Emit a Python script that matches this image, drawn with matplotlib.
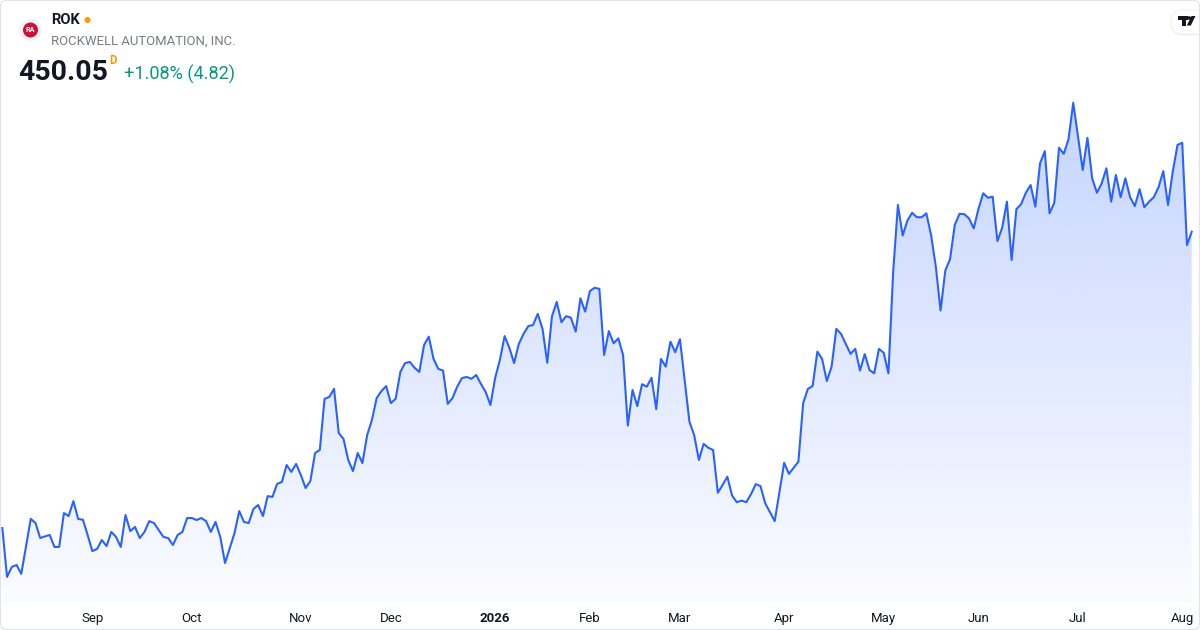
import matplotlib
matplotlib.use("Agg")
import matplotlib.pyplot as plt
import numpy as np
import matplotlib.transforms as mtransforms
from matplotlib.patches import FancyBboxPatch, Circle, Polygon, Rectangle

plt.rcParams['font.family'] = ['Roboto', 'DejaVu Sans']

# ---------------- data ----------------
ticker = "ROK"
company = "ROCKWELL AUTOMATION, INC."
last_price = "450.05"
price_flag = "D"
change_text = "+1.08% (4.82)"

# daily closes (trading days, Aug 5 2025 .. Aug 5 2026)
prices = [
    343.4, 325.8, 329.4, 330.1, 326.9, 336.9, 346.7, 345.2, 339.8, 340.4,
    340.9, 336.6, 336.6, 348.8, 347.7, 353.1, 346.7, 346.4, 340.9, 335.1,
    335.9, 339.1, 336.9, 342.0, 340.2, 336.6, 348.1, 342.3, 343.8, 339.8,
    342.0, 345.9, 345.2, 342.7, 340.2, 339.8, 337.3, 340.9, 342.0, 347.0,
    347.0, 346.3, 347.0, 345.9, 342.0, 345.6, 340.2, 330.8, 336.2, 341.6,
    349.5, 345.6, 345.2, 350.3, 351.7, 347.7, 354.9, 354.6, 359.3, 360.0,
    366.1, 363.6, 366.5, 362.5, 357.8, 360.3, 370.4, 371.5, 389.9, 390.6,
    393.5, 377.6, 375.5, 367.9, 363.9, 370.4, 366.8, 376.9, 382.3, 390.2,
    392.7, 394.5, 388.4, 389.9, 399.6, 402.8, 403.2, 401.1, 399.6, 409.3,
    412.3, 404.3, 400.7, 400.1, 388.1, 390.2, 394.3, 397.4, 397.8, 397.1,
    398.5, 395.3, 392.4, 387.7, 397.4, 403.9, 412.5, 408.3, 402.8, 409.7,
    413.3, 416.1, 416.5, 420.5, 415.1, 402.9, 419.7, 424.8, 417.5, 419.7,
    419.1, 414.1, 426.1, 421.3, 428.7, 429.9, 429.5, 405.7, 414.3, 409.9,
    411.7, 405.7, 380.3, 393.1, 387.3, 395.2, 394.3, 397.5, 386.2, 404.3,
    401.5, 410.5, 406.7, 411.4, 396.7, 381.7, 376.9, 367.9, 373.7, 372.3,
    371.5, 356.1, 358.9, 361.9, 355.1, 352.7, 353.3, 352.7, 355.6, 359.2,
    358.5, 352.3, 349.1, 345.9, 356.5, 366.9, 362.9, 365.1, 367.3, 388.3,
    393.5, 394.5, 406.9, 404.3, 396.3, 401.5, 415.1, 413.3, 409.7, 406.1,
    407.9, 400.1, 406.0, 400.3, 399.1, 407.9, 406.5, 399.1, 435.7, 459.7,
    448.7, 454.1, 456.9, 455.3, 455.3, 456.7, 448.9, 437.5, 421.7, 436.1,
    440.2, 452.5, 456.5, 456.4, 454.9, 451.3, 458.3, 463.9, 462.3, 462.7,
    446.7, 451.5, 460.9, 439.9, 458.2, 460.0, 464.1, 466.9, 459.1, 474.7,
    479.1, 456.7, 460.5, 480.3, 478.1, 483.4, 496.5, 484.3, 472.3, 483.9,
    469.3, 464.1, 467.5, 472.9, 460.9, 470.5, 462.5, 469.3, 462.5, 459.3,
    465.4, 458.9, 460.9, 462.5, 466.1, 471.9, 459.7, 471.7, 481.3, 482.1,
    445.23, 450.05,
]

month_labels = ["Sep", "Oct", "Nov", "Dec", "2026", "Feb", "Mar", "Apr",
                "May", "Jun", "Jul", "Aug"]
month_start_idx = [19, 40, 63, 82, 104, 124, 143, 165, 186, 206, 227, 249]

# ---------------- figure ----------------
W, H = 1200, 630
fig = plt.figure(figsize=(W / 100, H / 100), dpi=100)
fig.patch.set_facecolor('white')
pxT = mtransforms.Affine2D().scale(1 / 100) + fig.dpi_scale_trans  # pixel coords, origin bottom-left


def P(x, y):
    return (x, H - y)


ax_bottom_px = 603
ax = fig.add_axes([0, (H - ax_bottom_px) / H, 1, ax_bottom_px / H])
ax.set_facecolor('none')
x = np.arange(len(prices))
y = np.array(prices)
xmin, xmax = -0.49, 252.75
ytop = 533.5
ybot = ytop - 0.36 * ax_bottom_px
ax.set_xlim(xmin, xmax)
ax.set_ylim(ybot, ytop)

# gradient fill under the line
poly = ax.fill_between(x, y, ybot, facecolor='none', edgecolor='none')
n = 400
rows = np.linspace(0, ax_bottom_px, n)
a_top, a_bot = 0.27, 0.02
alpha = np.clip(a_top + (a_bot - a_top) * (rows - 100) / (ax_bottom_px - 100), a_bot, a_top)
grad = np.zeros((n, 1, 4))
grad[..., 0] = 41 / 255
grad[..., 1] = 98 / 255
grad[..., 2] = 1.0
grad[:, 0, 3] = alpha
im = ax.imshow(grad, extent=[xmin, xmax, ybot, ytop], aspect='auto',
               origin='upper', zorder=1, interpolation='bilinear')
im.set_clip_path(poly.get_paths()[0], transform=ax.transData)

ax.plot(x, y, color='#2962ff', lw=1.5, solid_joinstyle='round', zorder=3)

for s in ax.spines.values():
    s.set_visible(False)
ax.set_yticks([])
ax.set_xticks(month_start_idx)
ax.set_xticklabels(month_labels)
ax.tick_params(axis='x', length=0, pad=6.8, labelsize=9.5, labelcolor='#131722')
for lab in ax.get_xticklabels():
    if lab.get_text() == "2026":
        lab.set_fontweight('bold')

# ---------------- header ----------------
fig.patches.append(Circle(P(30.5, 30), 11, transform=pxT, facecolor='#f0f3fa',
                          edgecolor='none', zorder=5))
fig.patches.append(Circle(P(30.5, 30), 7.5, transform=pxT, facecolor='#d0103a',
                          edgecolor='none', zorder=6))
fig.text(*P(30.5, 30.5), "RA", transform=pxT, fontsize=5.2, fontweight='bold',
         color='white', ha='center', va='center', zorder=7)

fig.text(*P(51, 20.5), ticker, transform=pxT, fontsize=10.5, fontweight='bold',
         color='#131722', ha='left', va='center')
fig.patches.append(Circle(P(87.5, 20), 3, transform=pxT, facecolor='#ff9800',
                          edgecolor='none'))
fig.text(*P(51, 41), company, transform=pxT, fontsize=9.45,
         color='#787b86', ha='left', va='center')
fig.text(*P(18, 72), last_price, transform=pxT, fontsize=20.4, fontweight='bold',
         color='#131722', ha='left', va='center')
fig.text(*P(109, 61), price_flag, transform=pxT, fontsize=8.3, fontweight='bold',
         color='#ff9800', ha='left', va='center')
fig.text(*P(124, 74), change_text, transform=pxT, fontsize=13.1,
         color='#089981', ha='left', va='center')

# ---------------- TradingView badge ----------------
shadow = FancyBboxPatch(P(1171, 35.5), 60, 24, boxstyle="round,pad=0,rounding_size=12",
                        transform=pxT, facecolor='#000000', alpha=0.06, edgecolor='none')
fig.patches.append(shadow)
pill = FancyBboxPatch(P(1171, 34), 60, 24, boxstyle="round,pad=0,rounding_size=12",
                      transform=pxT, facecolor='white', edgecolor='#eceef2', lw=0.6)
fig.patches.append(pill)
fig.patches.append(Rectangle(P(1177.5, 19.5), 10, 3.5, transform=pxT,
                             facecolor='#131722', edgecolor='none'))
fig.patches.append(Rectangle(P(1181.5, 25.5), 4, 9.5, transform=pxT,
                             facecolor='#131722', edgecolor='none'))
fig.patches.append(Circle(P(1189.3, 18), 1.8, transform=pxT,
                          facecolor='#131722', edgecolor='none'))
fig.patches.append(Polygon([P(1191.5, 16), P(1195.5, 16), P(1190.8, 25.5), P(1186.8, 25.5)],
                           closed=True, transform=pxT, facecolor='#131722', edgecolor='none'))

# ---------------- outer border ----------------
border = FancyBboxPatch((0.5, 0.5), W - 1, H - 1, boxstyle="round,pad=0,rounding_size=6",
                        transform=pxT, facecolor='none', edgecolor='#e0e3eb', lw=0.8)
fig.patches.append(border)

fig.savefig("out.png", dpi=100, facecolor='white')
